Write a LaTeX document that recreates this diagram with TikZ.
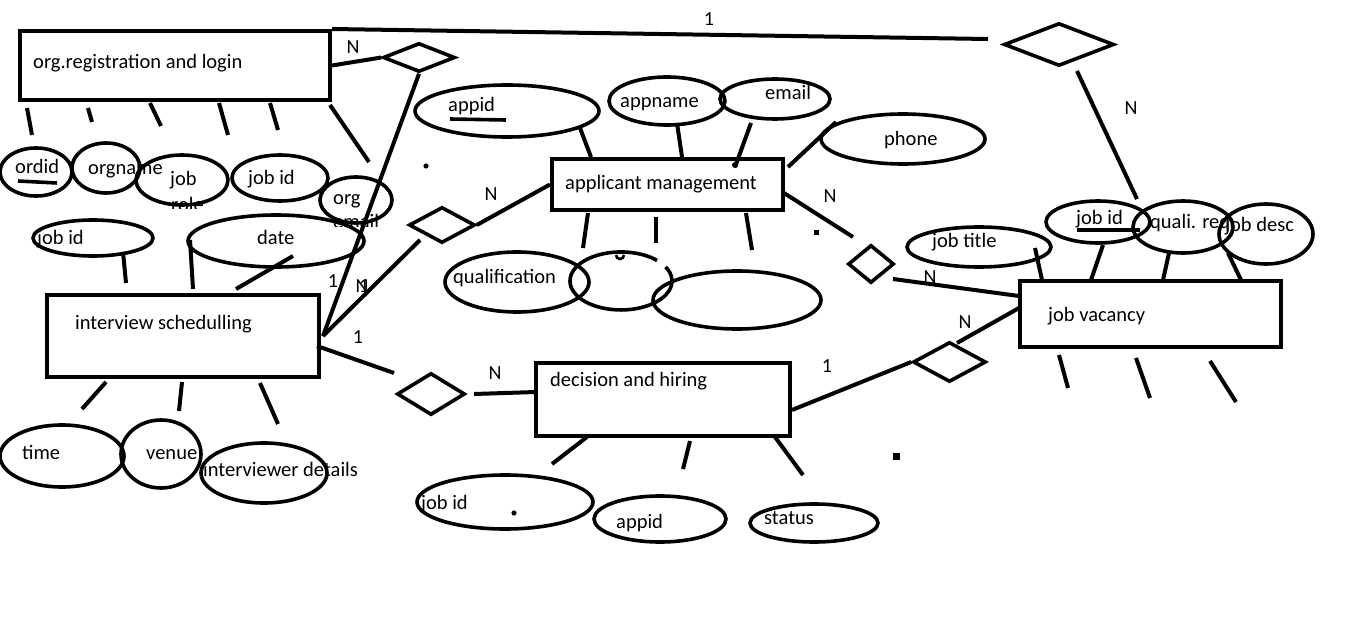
\documentclass[tikz,border=0pt]{standalone}
\usepackage{fontspec}
\setmainfont{Carlito}
\usetikzlibrary{shapes.geometric}
\tikzset{
  ent/.style={draw, rectangle, line width=4pt, inner sep=0pt},
  attr/.style={draw, ellipse, line width=3.6pt, inner sep=0pt},
  rel/.style={draw, diamond, line width=3.6pt, inner sep=0pt},
  ln/.style={line width=4pt},
  uline/.style={line width=3.6pt},
  lbl/.style={inner sep=0pt, anchor=mid west, yshift=-4pt, font=\fontsize{20.5}{24}\selectfont},
  card/.style={inner sep=0pt, anchor=center, yshift=-1pt, font=\fontsize{20}{24}\selectfont},
}
\begin{document}
\begin{tikzpicture}[x=1pt,y=-1pt]
\useasboundingbox (0,0) rectangle (1360,623);
\fill[white] (0,0) rectangle (1360,623);

% ---------- entities ----------
\node[ent, minimum width=310pt, minimum height=69pt] (org) at (175,65.5) {};
\node[ent, minimum width=231pt, minimum height=51pt] (app) at (667.5,184.5) {};
\node[ent, minimum width=261pt, minimum height=66pt] (jv)  at (1150.5,314) {};
\node[ent, minimum width=272pt, minimum height=82pt] (is)  at (183,336) {};
\node[ent, minimum width=254pt, minimum height=73pt] (dh)  at (663,399.5) {};
\node[lbl] (torg) at (33,62) {org.registration and login};
\node[lbl] (tapp) at (565,183) {applicant management};
\node[lbl] (tjv)  at (1048,315) {job vacancy};
\node[lbl] (tis)  at (75,323) {interview schedulling};
\node[lbl] (tdh)  at (550,380) {decision and hiring};

% ---------- relationships ----------
\node[rel, minimum width=72pt, minimum height=29pt] (d1) at (419,57.5) {};
\node[rel, minimum width=110pt, minimum height=43pt] (d2) at (1059,44.5) {};
\node[rel, minimum width=66pt, minimum height=36pt] (d3) at (442,225) {};
\node[rel, minimum width=46pt, minimum height=38pt] (d4) at (871,264) {};
\node[rel, minimum width=68pt, minimum height=42pt] (d5) at (431,394) {};
\node[rel, minimum width=73pt, minimum height=40pt] (d6) at (949.5,362) {};

% ---------- attributes ----------
\node[attr, minimum width=72pt, minimum height=48pt]  (ordid)   at (36,172) {};
\node[attr, minimum width=68pt, minimum height=50pt]  (orgname) at (106,168) {};
\node[attr, minimum width=92pt, minimum height=50pt]  (jobrole) at (182,180) {};
\node[attr, minimum width=96pt, minimum height=46pt]  (ojobid)  at (280,178) {};
\node[attr, minimum width=72pt, minimum height=46pt]  (orgmail) at (356,200) {};
\node[attr, minimum width=120pt, minimum height=36pt] (ijobid)  at (93,238) {};
\node[attr, minimum width=176pt, minimum height=52pt] (date)    at (276,241) {};
\node[attr, minimum width=124pt, minimum height=62pt] (time)    at (62,456) {};
\node[attr, minimum width=80pt, minimum height=68pt]  (venue)   at (161,454) {};
\node[attr, minimum width=126pt, minimum height=60pt] (intdet)  at (264,473) {};
\node[attr, minimum width=184pt, minimum height=52pt] (appid)   at (507,111) {};
\node[attr, minimum width=116pt, minimum height=48pt] (appname) at (667,101) {};
\node[attr, minimum width=110pt, minimum height=40pt] (email)   at (775,99) {};
\node[attr, minimum width=164pt, minimum height=50pt] (phone)   at (903,139) {};
\node[attr, minimum width=144pt, minimum height=60pt] (qual)    at (517,282) {};
\node[attr, minimum width=168pt, minimum height=58pt] (blank)   at (737,300) {};
\node[attr, minimum width=144pt, minimum height=40pt] (jtitle)  at (979,247) {};
\node[attr, minimum width=104pt, minimum height=42pt] (vjobid)  at (1098,222) {};
\node[attr, minimum width=100pt, minimum height=52pt] (quali)   at (1183,227) {};
\node[attr, minimum width=94pt, minimum height=60pt]  (jdesc)   at (1266,234) {};
\node[attr, minimum width=176pt, minimum height=54pt] (djobid)  at (505,502) {};
\node[attr, minimum width=132pt, minimum height=46pt] (dappid)  at (660,519) {};
\node[attr, minimum width=128pt, minimum height=38pt] (status)  at (814,523) {};
% partial ellipse with a gap at its upper right
\draw[line width=3.6pt] (665.6,266.9) arc[start angle=-29, end angle=315, x radius=51, y radius=29];
\draw[line width=2.6pt] (616,255) arc[start angle=180, end angle=0, radius=4];

% ---------- attribute texts ----------
\node[lbl] (t1) at (15,167) {ordid};
\draw[uline] (18,181) -- (57,183);
\node[lbl] (t2) at (88,168) {orgname};
\node[lbl] (t3) at (170,179) {job};
\begin{scope}
  \clip (150,190) rectangle (230,208.5);
  \node[lbl] (t3b) at (171,205) {role};
\end{scope}
\node[lbl] (t4) at (248,178) {job id};
\node[lbl] (t5) at (333,198) {org};
\begin{scope}
  \clip (320,212) rectangle (400,226);
  \node[lbl] (t5b) at (333,222.5) {email};
\end{scope}
\node[lbl] (t6) at (37,238) {job id};
\node[lbl] (t7) at (257,238) {date};
\node[lbl] (t8) at (22,453) {time};
\node[lbl] (t9) at (146,453) {venue};
\node[lbl] (t10) at (203,470) {interviewer details};
\node[lbl] (t11) at (448,105) {appid};
\draw[uline] (450,119) -- (506,120);
\node[lbl] (t12) at (620,101) {appname};
\node[lbl] (t13) at (765,93) {email};
\node[lbl] (t14) at (884,139) {phone};
\node[lbl] (t15) at (453,277) {qualification};
\node[lbl] (t16) at (932,241) {job title};
\node[lbl] (t17) at (1076,218) {job id};
\draw[uline] (1077,230) -- (1140,230);
\node[lbl] (t18) at (1150,222) {quali. req};
\node[lbl] (t19) at (1225,225) {job desc};
\node[lbl] (t20) at (421,503) {job id};
\node[lbl] (t21) at (616,522) {appid};
\node[lbl] (t22) at (764,518) {status};

% ---------- cardinalities ----------
\node[card] (c1) at (353,46) {N};
\node[card] (c2) at (709,18) {1};
\node[card] (c3) at (1131,107) {N};
\node[card] (c4) at (491,193) {N};
\node[card] (c5) at (830,195) {N};
\node[card] (c6) at (930,276) {N};
\node[card] (c7) at (965,321) {N};
\node[card] (c8) at (827,365) {1};
\node[card] (c9) at (495,372) {N};
\node[card] (c10) at (358,336) {1};
\node[card] (c11) at (333,280) {1};
\node[card] (c12) at (362,285) {N};
\node[card] (c13) at (364,285) {1};

% ---------- free-end coordinates ----------
\coordinate (top2) at (988,39);
\coordinate (ij) at (323,336);
\coordinate (d3a) at (420,240);
\coordinate (is5a) at (317,346);
\coordinate (d5a) at (394,373);
\coordinate (app4a) at (784,193);
\coordinate (d4a) at (853,237);
\coordinate (d4b) at (893,279);
\coordinate (jva) at (1019,296);
\coordinate (d6a) at (957,343);
\coordinate (jvb) at (1019,308);
\coordinate (dha) at (792,410);
\coordinate (d5b) at (474,394);
\coordinate (dhb) at (536,392);
\coordinate (d2a) at (1077,71);
\coordinate (d2b) at (1137,199);

% ---------- relationship connectors ----------
\draw[ln] (org.north east) -- (top2);
\draw[ln] (org.east) -- (d1.west);
\draw[ln] (d1.south) -- (ij);
\draw[ln] (ij) -- (d3a);
\draw[ln] (is5a) -- (d5a);
\draw[ln] (app.west) -- (d3.east);
\draw[ln] (app4a) -- (d4a);
\draw[ln] (d4b) -- (jva);
\draw[ln] (d6a) -- (jvb);
\draw[ln] (dha) -- (d6.west);
\draw[ln] (d5b) -- (dhb);
\draw[ln] (d2a) -- (d2b);

% ---------- attribute stubs ----------
\foreach \a/\b in {
  {(27,108)}/{(32,135)}, {(88,108)}/{(92,122)}, {(150,103)}/{(161,126)},
  {(219,103)}/{(228,135)}, {(270,103)}/{(278,130)}, {(330,105)}/{(369,162)},
  {(123,252)}/{(126,283)}, {(190,240)}/{(193,289)}, {(293,256)}/{(236,289)},
  {(106,382)}/{(82,409)}, {(182,382)}/{(179,411)}, {(260,383)}/{(278,424)},
  {(580,128)}/{(591,157)}, {(677,123)}/{(682,157)}, {(751,123)}/{(735,167)},
  {(836,122)}/{(788,167)}, {(588,213)}/{(583,248)}, {(656,217)}/{(656,243)},
  {(746,213)}/{(752,250)},
  {(1035,248)}/{(1042,280)}, {(1103,245)}/{(1091,280)}, {(1169,253)}/{(1163,280)},
  {(1228,253)}/{(1241,280)}, {(1059,355)}/{(1068,388)}, {(1136,358)}/{(1150,398)},
  {(1210,361)}/{(1236,402)},
  {(587,437)}/{(552,464)}, {(690,441)}/{(683,469)}, {(775,437)}/{(803,475)}}
  {\draw[ln] \a -- \b;}

% ---------- stray dots ----------
\fill (426,166) circle (2.6);
\fill (514,513) circle (2.6);
\fill (735,165) circle (3);
\fill (813.5,229.5) rectangle (818.5,234.5);
\fill (892.5,452.5) rectangle (899.5,459.5);
\end{tikzpicture}
\end{document}
